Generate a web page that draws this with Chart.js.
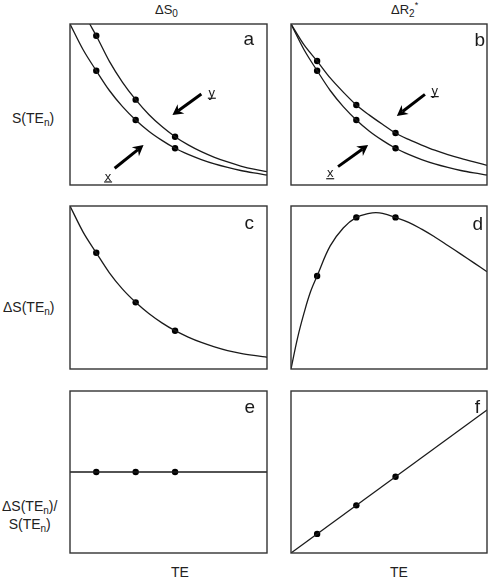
<!DOCTYPE html>
<html>
<head>
<meta charset="utf-8">
<script src="https://cdn.jsdelivr.net/npm/chart.js@4"></script>
<style>
  body { margin: 0; background: #fff; width: 489px; height: 577px; position: relative; overflow: hidden;
         font-family: "Liberation Sans", Arial, Helvetica, sans-serif; color: #222; }
  canvas { position: absolute; }
  .lbl { position: absolute; font-size: 14px; line-height: 16px; white-space: nowrap; }
  .sub { font-size: 10px; position: relative; top: 3px; }
  .sup { font-size: 9px; position: relative; top: -6px; }
</style>
</head>
<body>
<div class="lbl" style="left:155px; top:2px; font-size:13px;">ΔS<span class="sub">0</span></div>
<div class="lbl" style="left:391px; top:2px; font-size:13px;">ΔR<span class="sub">2</span><span class="sup">*</span></div>
<div class="lbl" style="left:12px; top:110px;">S(TE<span class="sub">n</span>)</div>
<div class="lbl" style="left:3px; top:299px;">ΔS(TE<span class="sub">n</span>)</div>
<div class="lbl" style="left:2px; top:498px; text-align:center;">ΔS(TE<span class="sub">n</span>)/<br>S(TE<span class="sub">n</span>)</div>
<div class="lbl" style="left:171px; top:564px;">TE</div>
<div class="lbl" style="left:390px; top:564px;">TE</div>

<canvas id="panelA"></canvas>
<canvas id="panelB"></canvas>
<canvas id="panelC"></canvas>
<canvas id="panelD"></canvas>
<canvas id="panelE"></canvas>
<canvas id="panelF"></canvas>

<script>
// echo times (arbitrary units) and the three sampled echoes
const teGrid = [0, 1, 2, 3, 4, 5, 6, 7, 8, 9, 10, 11, 12, 13, 14, 15];
const teSampled = [2, 5, 8];
const teUpperA = [1.5, 2, 3, 4, 5, 6, 7, 8, 9, 10, 11, 12, 13, 14, 15];
const teRise = [0, 0.5, 1, 1.5, 2, 3, 4, 5, 6, 6.5, 7, 8, 9, 10, 11, 12, 13, 14, 15];
const teLine = [0, 15];

// a / b : signal curves (x = baseline, y = activated)
const signalX = [1.0, 0.84, 0.71, 0.587, 0.487, 0.404, 0.334, 0.277, 0.228, 0.19, 0.158, 0.131, 0.109, 0.09, 0.075, 0.062];
const signalYa = [1.0, 0.927, 0.768, 0.638, 0.53, 0.438, 0.363, 0.30, 0.249, 0.207, 0.172, 0.143, 0.118, 0.098, 0.083];
const signalYb = [1.0, 0.87, 0.77, 0.665, 0.577, 0.497, 0.434, 0.377, 0.323, 0.283, 0.248, 0.216, 0.189, 0.165, 0.143, 0.122];
const dotsX = [0.71, 0.404, 0.228];
const dotsYa = [0.927, 0.53, 0.30];
const dotsYb = [0.77, 0.497, 0.323];

// c / d : signal difference
const diffS0 = [1.0, 0.84, 0.713, 0.59, 0.49, 0.409, 0.34, 0.283, 0.235, 0.196, 0.163, 0.136, 0.113, 0.096, 0.083, 0.072];
const diffR2 = [0, 0.19, 0.344, 0.475, 0.571, 0.755, 0.865, 0.93, 0.955, 0.959, 0.955, 0.93, 0.9, 0.858, 0.81, 0.758, 0.705, 0.651, 0.597];
const dotsDiffS0 = [0.713, 0.409, 0.235];
const dotsDiffR2 = [0.571, 0.93, 0.93];

// e / f : relative difference
const ratioS0 = [0.5, 0.5];
const ratioR2 = [0, 0.883];
const dotsRatioS0 = [0.5, 0.5, 0.5];
const dotsRatioR2 = [0.118, 0.294, 0.471];

// arrows in a and b: [tailTE, tailS, tipTE, tipS], labels [TE, S, text]
const arrowsA = [[10.0, 0.565, 7.8, 0.435], [3.4, 0.104, 5.6, 0.248]];
const arrowLabelsA = [[10.8, 0.57, 'y'], [2.9, 0.05, 'x']];
const arrowsB = [[10.25, 0.563, 8.1, 0.429], [3.6, 0.114, 5.9, 0.248]];
const arrowLabelsB = [[11.0, 0.58, 'y'], [3.0, 0.07, 'x']];

const PAD = 8;
const INK = '#1a1a1a';
const FONT = '"Liberation Sans", Arial, Helvetica, sans-serif';

const pts = (xs, ys) => xs.map((x, i) => ({ x: x, y: ys[i] }));

function curve(xs, ys, mode) {
    return {
        data: pts(xs, ys),
        borderColor: INK,
        borderWidth: 1.3,
        pointRadius: 0,
        cubicInterpolationMode: mode || 'monotone',
        tension: 0.4,
        fill: false
    };
}

function dots(xs, ys) {
    return {
        data: pts(xs, ys),
        showLine: false,
        pointRadius: 3.2,
        pointBackgroundColor: '#000',
        pointBorderColor: '#000',
        pointBorderWidth: 0
    };
}

const panelDecor = {
    id: 'panelDecor',
    afterDraw(chart, args, opts) {
        const ctx = chart.ctx;
        const area = chart.chartArea;
        const xs = chart.scales.x, ys = chart.scales.y;
        ctx.save();
        // frame
        ctx.strokeStyle = '#333';
        ctx.lineWidth = 1.4;
        ctx.strokeRect(area.left, area.top, area.right - area.left, area.bottom - area.top);
        // panel letter
        ctx.fillStyle = INK;
        ctx.font = '19px ' + FONT;
        ctx.textAlign = 'right';
        ctx.textBaseline = 'alphabetic';
        ctx.fillText(opts.letter, area.right - opts.dx, area.top + opts.dy);
        // arrows
        (opts.arrows || []).forEach(a => {
            const x0 = xs.getPixelForValue(a[0]), y0 = ys.getPixelForValue(a[1]);
            const x1 = xs.getPixelForValue(a[2]), y1 = ys.getPixelForValue(a[3]);
            const ang = Math.atan2(y1 - y0, x1 - x0);
            const head = 12;
            ctx.strokeStyle = '#000';
            ctx.lineWidth = 3;
            ctx.beginPath();
            ctx.moveTo(x0, y0);
            ctx.lineTo(x1 - Math.cos(ang) * head * 0.6, y1 - Math.sin(ang) * head * 0.6);
            ctx.stroke();
            ctx.fillStyle = '#000';
            ctx.beginPath();
            ctx.moveTo(x1, y1);
            ctx.lineTo(x1 - head * Math.cos(ang - 0.5), y1 - head * Math.sin(ang - 0.5));
            ctx.lineTo(x1 - head * 0.6 * Math.cos(ang), y1 - head * 0.6 * Math.sin(ang));
            ctx.lineTo(x1 - head * Math.cos(ang + 0.5), y1 - head * Math.sin(ang + 0.5));
            ctx.closePath();
            ctx.fill();
        });
        // vector labels x / y (underlined)
        ctx.font = '13px ' + FONT;
        ctx.textAlign = 'center';
        ctx.textBaseline = 'middle';
        (opts.labels || []).forEach(l => {
            const px = xs.getPixelForValue(l[0]), py = ys.getPixelForValue(l[1]);
            ctx.fillStyle = INK;
            ctx.fillText(l[2], px, py);
            ctx.lineWidth = 1.2;
            ctx.strokeStyle = INK;
            ctx.beginPath();
            ctx.moveTo(px - 4, py + 5);
            ctx.lineTo(px + 4, py + 5);
            ctx.stroke();
        });
        ctx.restore();
    }
};

function makePanel(id, box, datasets, decor) {
    const cv = document.getElementById(id);
    cv.width = box.w + 2 * PAD;
    cv.height = box.h + 2 * PAD;
    cv.style.left = (box.left - PAD) + 'px';
    cv.style.top = (box.top - PAD) + 'px';
    return new Chart(cv.getContext('2d'), {
        type: 'line',
        data: { datasets: datasets },
        options: {
            responsive: false,
            animation: false,
            layout: { padding: PAD },
            scales: {
                x: { type: 'linear', min: 0, max: 15, display: false },
                y: { type: 'linear', min: 0, max: 1, display: false }
            },
            plugins: {
                legend: { display: false },
                tooltip: { enabled: false },
                panelDecor: decor
            }
        },
        plugins: [panelDecor]
    });
}

makePanel('panelA', { left: 70, top: 24, w: 197, h: 161 }, [
    curve(teGrid, signalX), curve(teUpperA, signalYa),
    dots(teSampled, dotsX), dots(teSampled, dotsYa)
], { letter: 'a', dx: 13, dy: 21, arrows: arrowsA, labels: arrowLabelsA });

makePanel('panelB', { left: 291, top: 24, w: 196, h: 161 }, [
    curve(teGrid, signalX), curve(teGrid, signalYb),
    dots(teSampled, dotsX), dots(teSampled, dotsYb)
], { letter: 'b', dx: 2, dy: 22, arrows: arrowsB, labels: arrowLabelsB });

makePanel('panelC', { left: 70, top: 206, w: 197, h: 163 }, [
    curve(teGrid, diffS0), dots(teSampled, dotsDiffS0)
], { letter: 'c', dx: 13, dy: 23 });

makePanel('panelD', { left: 291, top: 206, w: 196, h: 163 }, [
    curve(teRise, diffR2, 'default'), dots(teSampled, dotsDiffR2)
], { letter: 'd', dx: 4, dy: 24 });

makePanel('panelE', { left: 70, top: 391, w: 197, h: 162 }, [
    curve(teLine, ratioS0), dots(teSampled, dotsRatioS0)
], { letter: 'e', dx: 12, dy: 22 });

makePanel('panelF', { left: 291, top: 391, w: 196, h: 162 }, [
    curve(teLine, ratioR2), dots(teSampled, dotsRatioR2)
], { letter: 'f', dx: 7, dy: 22 });
</script>
</body>
</html>
